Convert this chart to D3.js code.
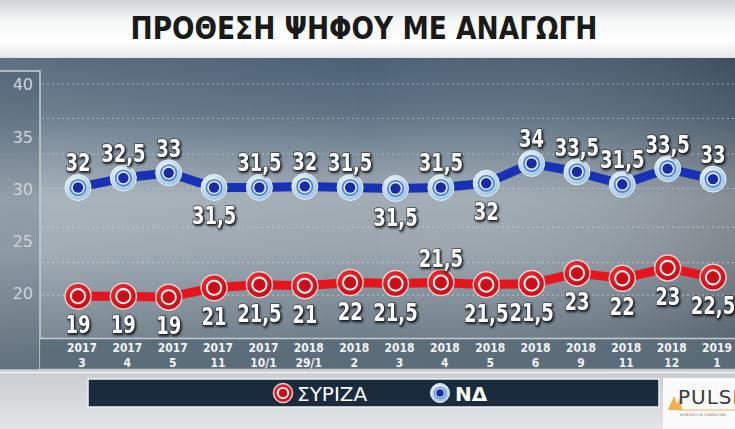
<!DOCTYPE html>
<html><head><meta charset="utf-8">
<script src="https://cdn.jsdelivr.net/npm/d3@7/dist/d3.min.js"></script>
<style>
html,body{margin:0;padding:0;background:#d6dadd;}
svg{display:block;}
</style></head>
<body>
<svg id="c" width="735" height="429"></svg>
<script>
// ---- data ----
const title = "ΠΡΟΘΕΣΗ ΨΗΦΟΥ ΜΕ ΑΝΑΓΩΓΗ";
const yearLabels = ["2017","2017","2017","2017","2017","2018","2018","2018","2018","2018","2018","2018","2018","2018","2019"];
const periodLabels = ["3","4","5","11","10/1","29/1","2","3","4","5","6","9","11","12","1"];
const yTicks = [20,25,30,35,40];
const gridValues = [40,36.7,33.3,30,26.3,22.9,19.8];
// printed values
const ndValues = [32,32.5,33,31.5,31.5,32,31.5,31.5,31.5,32,34,33.5,31.5,33.5,33];
const syrizaValues = [19,19,19,21,21.5,21,22,21.5,21.5,21.5,21.5,23,22,23,22.5];
// heights at which the markers are drawn on the y axis
const ndPlotted = [30.1,31.0,31.5,30.1,30.1,30.2,30.1,30.0,30.1,30.5,32.4,31.6,30.4,31.9,30.9];
const syrizaPlotted = [19.7,19.7,19.6,20.5,20.8,20.7,21.0,20.9,21.0,20.8,20.9,21.9,21.4,22.4,21.5];
const ndLabelBelow = [3,7,9];
const syrizaLabelAbove = [8];
const seriesNames = ["ΣΥΡΙΖΑ","ΝΔ"];

// ---- drawing ----
const svg = d3.select("#c");
const W = 735, H = 429;
const defs = svg.append("defs");
const condFont = "'DejaVu Sans Condensed','DejaVu Sans',sans-serif";

function lin(id, stops, x2="0", y2="1"){
  const g = defs.append("linearGradient").attr("id",id).attr("x1",0).attr("y1",0).attr("x2",x2).attr("y2",y2);
  stops.forEach(s=>g.append("stop").attr("offset",s[0]).attr("stop-color",s[1]));
}
lin("gTitle",[[0,"#cfd2d4"],[0.35,"#f4f5f5"],[0.7,"#ffffff"],[1,"#e6e8e9"]]);
lin("gPanel",[[0,"#4b6074"],[0.18,"#5f7385"],[0.45,"#a2adb6"],[0.62,"#9aa5ae"],[0.85,"#75848f"],[1,"#5e6e7b"]]);
lin("gPanelH",[[0,"rgba(255,255,255,0.10)"],[0.5,"rgba(255,255,255,0)"],[1,"rgba(0,0,0,0.18)"]],"1","0");
lin("gBottom",[[0,"#c9cdd0"],[1,"#e2e5e7"]]);

const ndGrad = defs.append("radialGradient").attr("id","gNd").attr("cx","40%").attr("cy","35%").attr("r","65%");
ndGrad.append("stop").attr("offset",0).attr("stop-color","#ffffff");
ndGrad.append("stop").attr("offset",1).attr("stop-color","#9ec4e2");
const rdGrad = defs.append("radialGradient").attr("id","gRd").attr("cx","40%").attr("cy","35%").attr("r","65%");
rdGrad.append("stop").attr("offset",0).attr("stop-color","#f2343a");
rdGrad.append("stop").attr("offset",1).attr("stop-color","#c20d16");

const sh = defs.append("filter").attr("id","shadow").attr("x","-30%").attr("y","-30%").attr("width","160%").attr("height","160%");
sh.append("feDropShadow").attr("dx",1.5).attr("dy",1.5).attr("stdDeviation",1.2).attr("flood-color","#000").attr("flood-opacity",0.85);

// bottom area
svg.append("rect").attr("x",0).attr("y",370).attr("width",W).attr("height",H-370).attr("fill","url(#gBottom)");
svg.append("line").attr("x1",0).attr("x2",W).attr("y1",372.5).attr("y2",372.5).attr("stroke","#f0f2f3").attr("stroke-width",1.5);

// title band
svg.append("rect").attr("x",0).attr("y",0).attr("width",W).attr("height",57).attr("fill","url(#gTitle)");
svg.append("text").attr("x",364).attr("y",39).attr("text-anchor","middle")
  .attr("font-family",condFont)
  .attr("font-weight","bold").attr("font-size",32).attr("fill","#1a1a1a")
  .attr("textLength",467).attr("lengthAdjust","spacingAndGlyphs")
  .text(title);

// chart panel
svg.append("rect").attr("x",0).attr("y",57).attr("width",W).attr("height",313).attr("fill","url(#gPanel)");
svg.append("rect").attr("x",0).attr("y",57).attr("width",W).attr("height",313).attr("fill","url(#gPanelH)");
svg.append("line").attr("x1",0).attr("x2",W).attr("y1",57.5).attr("y2",57.5).attr("stroke","#dfe3e6").attr("stroke-width",1);

// scales
const x = d3.scalePoint().domain(d3.range(yearLabels.length)).range([78,713]);
const y = d3.scaleLinear().domain([20,40]).range([293,84]);

// left axis column
svg.append("rect").attr("x",-2).attr("y",71).attr("width",42).attr("height",299)
  .attr("fill","rgba(40,60,80,0.18)").attr("stroke","#c9d1d8").attr("stroke-width",1.5);

// x axis band
svg.append("rect").attr("x",40).attr("y",338).attr("width",W-40).attr("height",32)
  .attr("fill","#5b6b79").attr("opacity",0.9);
svg.append("line").attr("x1",40).attr("x2",W).attr("y1",338.5).attr("y2",338.5).attr("stroke","#c3ccd3").attr("stroke-width",1.5);
svg.append("line").attr("x1",40).attr("x2",W).attr("y1",369.5).attr("y2",369.5).attr("stroke","#c3ccd3").attr("stroke-width",1.5);

// gridlines
svg.append("g").selectAll("line").data(gridValues).join("line")
  .attr("x1",42).attr("x2",W).attr("y1",d=>y(d)).attr("y2",d=>y(d))
  .attr("stroke","#d4dbe1").attr("stroke-opacity",0.55).attr("stroke-width",1.2).attr("stroke-dasharray","2,3");

// y axis
const yAxis = svg.append("g").attr("transform","translate(33,0)")
  .call(d3.axisLeft(y).tickValues(yTicks).tickSize(0).tickPadding(0));
yAxis.select(".domain").remove();
yAxis.selectAll("text").attr("font-family","'DejaVu Sans',sans-serif").attr("font-size",16)
  .attr("fill","#cdd4db").attr("dy","0.36em");

// x axis (two-line category labels)
const xt = svg.append("g").selectAll("g").data(d3.range(yearLabels.length)).join("g")
  .attr("transform",i=>`translate(${x(i)+4},0) scale(0.92,1)`);
xt.append("text").attr("x",0).attr("y",352.5).attr("text-anchor","middle").attr("font-family",condFont)
  .attr("font-weight","bold").attr("font-size",13).attr("fill","#f2f4f6").text(i=>yearLabels[i]);
xt.append("text").attr("x",0).attr("y",367.5).attr("text-anchor","middle").attr("font-family",condFont)
  .attr("font-weight","bold").attr("font-size",13).attr("fill","#f2f4f6").text(i=>periodLabels[i]);

// lines
const line = d3.line().x((d,i)=>x(i)).y(d=>y(d));
svg.append("path").datum(ndPlotted).attr("d",line).attr("fill","none")
  .attr("stroke","#1732b6").attr("stroke-width",9).attr("stroke-linejoin","round");
svg.append("path").datum(syrizaPlotted).attr("d",line).attr("fill","none")
  .attr("stroke","#e5141d").attr("stroke-width",9).attr("stroke-linejoin","round");

function ndMarker(g, r){
  g.append("circle").attr("r",r).attr("fill","url(#gNd)").attr("stroke","#e9f3fb").attr("stroke-width",1);
  g.append("circle").attr("r",r*0.66).attr("fill","#4f86d6");
  g.append("circle").attr("r",r*0.52).attr("fill","#e8f2fb");
  g.append("circle").attr("r",r*0.40).attr("fill","#1a2ba6");
}
function rdMarker(g, r){
  g.append("circle").attr("r",r).attr("fill","url(#gRd)").attr("stroke","#f3c9cb").attr("stroke-width",1.5);
  g.append("circle").attr("r",r*0.55).attr("fill","none").attr("stroke","#ffffff").attr("stroke-width",1.8);
  g.append("circle").attr("r",r*0.42).attr("fill","#c80f18");
}

const ndM = svg.append("g").selectAll("g").data(ndPlotted).join("g")
  .attr("transform",(d,i)=>`translate(${x(i)},${y(d)})`);
ndM.each(function(){ ndMarker(d3.select(this),13); });
const rdM = svg.append("g").selectAll("g").data(syrizaPlotted).join("g")
  .attr("transform",(d,i)=>`translate(${x(i)},${y(d)})`);
rdM.each(function(){ rdMarker(d3.select(this),13); });

// value labels
const fmt = v => String(v).replace(".",",");
function labels(vals, plotted, flip, defaultAbove){
  svg.append("g").selectAll("g").data(vals).join("g")
    .attr("transform",(d,i)=>{
      const above = flip.includes(i) ? !defaultAbove : defaultAbove;
      const ty = y(plotted[i]) + (above ? -16 : 37);
      return `translate(${x(i)},${ty}) scale(0.8,1)`;
    })
    .append("text")
    .attr("text-anchor","middle").attr("font-family",condFont).attr("font-weight","bold")
    .attr("font-size",25).attr("fill","#ffffff")
    .attr("stroke","#1b1f24").attr("stroke-width",1.2).attr("paint-order","stroke")
    .attr("filter","url(#shadow)")
    .text(d=>fmt(d));
}
labels(ndValues, ndPlotted, ndLabelBelow, true);
labels(syrizaValues, syrizaPlotted, syrizaLabelAbove, false);

// legend
svg.append("rect").attr("x",88).attr("y",379).attr("width",571).attr("height",28)
  .attr("fill","#1b2b3e").attr("stroke","#eef0f2").attr("stroke-width",1.5);
const lg1 = svg.append("g").attr("transform","translate(283,393)");
rdMarker(lg1,9.5);
svg.append("text").attr("x",297).attr("y",401).attr("font-family","'DejaVu Sans','Noto Sans',sans-serif")
  .attr("font-size",20).attr("fill","#ffffff").text(seriesNames[0]);
const lg2 = svg.append("g").attr("transform","translate(440,393)");
ndMarker(lg2,9.5);
svg.append("text").attr("x",455).attr("y",401).attr("font-family","'DejaVu Sans','Noto Sans',sans-serif")
  .attr("font-weight","bold").attr("font-size",20).attr("fill","#ffffff").text(seriesNames[1]);

// logo box
svg.append("rect").attr("x",663).attr("y",378).attr("width",72).attr("height",51).attr("fill","#fbfbfb");
svg.append("path").attr("d","M668,410 L674,396 L677,404 L680,398 L682,410 Z").attr("fill","#f0a030").attr("opacity",0.85);
svg.append("text").attr("x",678).attr("y",404).attr("font-family","'DejaVu Sans',sans-serif")
  .attr("font-size",20).attr("fill","#3a3a3a").attr("letter-spacing",1).text("PULSE");
svg.append("line").attr("x1",678).attr("x2",735).attr("y1",410).attr("y2",410).attr("stroke","#f0b060").attr("stroke-width",1);
svg.append("text").attr("x",680).attr("y",416).attr("font-family","'DejaVu Sans',sans-serif")
  .attr("font-size",3.5).attr("fill","#8a6a50").text("RESEARCH & CONSULTING");
</script>
</body></html>
